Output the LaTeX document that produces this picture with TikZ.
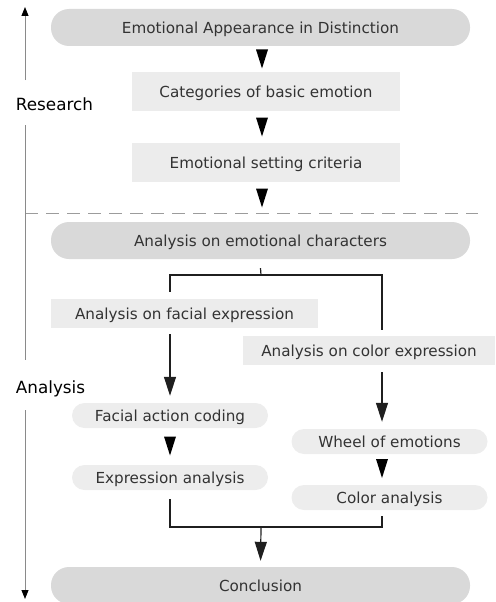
\documentclass[tikz,border=0pt]{standalone}
\usepackage{fontspec}
\setmainfont{DejaVu Sans}
\usetikzlibrary{arrows.meta,calc}
\definecolor{pilldark}{HTML}{D9D9D9}
\definecolor{boxlight}{HTML}{ECECEC}
\definecolor{pilllight}{HTML}{EDEDED}
\definecolor{txt}{HTML}{333333}
\definecolor{axisc}{HTML}{8A8A8A}
\tikzset{
  base/.style={inner sep=0pt, text=txt, font=\fontsize{15.2}{18}\selectfont, text height=11.1pt, text depth=0pt},
  bigpill/.style={base, fill=pilldark, rounded corners=18pt, minimum width=419pt, minimum height=37pt},
  flatbox/.style={base, fill=boxlight, minimum height=39pt},
  midbox/.style={base, fill=boxlight, minimum height=29pt},
  smallpill/.style={base, fill=pilllight, rounded corners=12.5pt, minimum width=196pt, minimum height=25pt},
  side/.style={inner sep=0pt, text=black, font=\fontsize{16.8}{20}\selectfont, text height=12.3pt, text depth=0pt},
  line/.style={draw=black!88, line width=1.2pt},
  arr/.style={line, -{Triangle[width=12pt,length=19pt]}},
  axisline/.style={draw=axisc, line width=1pt},
  axisarr/.style={axisline, -{Triangle[width=7pt,length=9pt,color=black]}},
}
\newcommand{\gaptri}[1]{\fill[black] ($(#1)+(-6,-9.5)$) -- ($(#1)+(6,-9.5)$) -- ($(#1)+(0,9.5)$) -- cycle;}
\begin{document}
\begin{tikzpicture}[x=1pt,y=-1pt]
\useasboundingbox (0,0) rectangle (495,602);

% main column
\node[bigpill] (top) at (260.5,27.5) {Emotional Appearance in Distinction};
\node[flatbox, minimum width=268pt] (cat) at (266,91.5) {Categories of basic emotion};
\node[flatbox, minimum width=268pt] (crit) at (266,162.5) {Emotional setting criteria};
\node[bigpill] (aec) at (260.5,240.5) {Analysis on emotional characters};
\node[midbox, minimum width=267pt] (afe) at (184.5,313.5) {Analysis on facial expression};
\node[midbox, minimum width=252pt] (ace) at (369,350.5) {Analysis on color expression};
\node[smallpill] (fac) at (170,415.5) {Facial action coding};
\node[smallpill] (exa) at (170,477.5) {Expression analysis};
\node[smallpill] (woe) at (389.5,441.5) {Wheel of emotions};
\node[smallpill] (cola) at (389.5,497.5) {Color analysis};
\node[bigpill, minimum height=37pt] (conc) at (260.5,585.5) {Conclusion};

% side labels
\node[side] (res) at (54.5,104) {Research};
\node[side] (ana) at (50.5,387) {Analysis};

% dashed separator
\coordinate (dL) at (25,213);
\coordinate (dR) at (478,213);
\draw[draw=axisc!85, line width=1pt, dash pattern=on 13pt off 8pt] (dL) -- (dR);

% side axis
\coordinate (ax1) at (25,80);
\coordinate (ax0) at (25,7);
\coordinate (ax2) at (25,125);
\coordinate (ax3) at (25,360);
\coordinate (ax4) at (25,410);
\coordinate (ax5) at (25,599);
\draw[axisarr] (ax1) -- (ax0);
\draw[axisline] (ax2) -- (ax3);
\draw[axisarr] (ax4) -- (ax5);

% triangles between boxes
\coordinate (t1) at (262,59);
\coordinate (t2) at (262,127);
\coordinate (t3) at (262,198);
\coordinate (t4) at (170,446);
\coordinate (t5) at (382,468.5);
\gaptri{t1}
\gaptri{t2}
\gaptri{t3}
\gaptri{t4}
\gaptri{t5}

% branching connectors
\coordinate (jC) at (261,275);
\coordinate (jL) at (170,275);
\coordinate (jR) at (382,275);
\draw[line] ([yshift=-9pt]aec.south) -- (jC);
\draw[line, shorten >=7pt] (jC) -- (jL) -- (jL |- afe.north);
\draw[line, shorten >=6pt] (jC) -- (jR) -- (jR |- ace.north);
\draw[arr, shorten <=6pt, shorten >=7pt] (jL |- afe.south) -- (jL |- fac.north);
\draw[arr, shorten <=7pt, shorten >=7pt] (jR |- ace.south) -- (jR |- woe.north);

% joining connectors
\coordinate (bC) at (261,527);
\coordinate (bL) at (170,527);
\coordinate (bR) at (382,527);
\draw[line, shorten <=9pt, shorten >=6pt] (jL |- exa.south) -- (bL) -- (bR) -- (jR |- cola.south);
\draw[arr, shorten >=6pt] (bC) -- (conc.north);
\end{tikzpicture}
\end{document}
